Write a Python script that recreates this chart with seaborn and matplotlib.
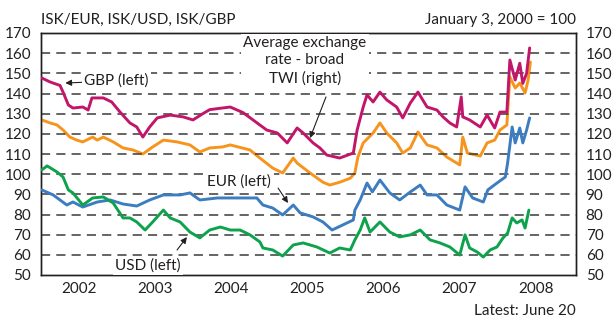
import matplotlib
matplotlib.use("Agg")
import matplotlib.pyplot as plt
import pandas as pd
import seaborn as sns
from matplotlib.ticker import FixedLocator, NullFormatter

# ISK exchange-rate indices (January 3, 2000 = 100), time as decimal years
gbp_t = [2002.01, 2002.12, 2002.25, 2002.29, 2002.36, 2002.42, 2002.55, 2002.62, 2002.67, 2002.82,
         2002.93, 2003.04, 2003.17, 2003.26, 2003.34, 2003.43, 2003.53, 2003.70, 2003.87, 2004.00,
         2004.13, 2004.22, 2004.49, 2004.66, 2004.84, 2004.97, 2005.11, 2005.24, 2005.37, 2005.45,
         2005.58, 2005.67, 2005.76, 2005.93, 2006.11, 2006.16, 2006.24, 2006.29, 2006.37, 2006.46,
         2006.55, 2006.68, 2006.76, 2006.86, 2006.96, 2007.08, 2007.21, 2007.29, 2007.38, 2007.47,
         2007.53, 2007.55, 2007.64, 2007.78, 2007.87, 2007.97, 2008.04, 2008.13, 2008.17, 2008.24,
         2008.30, 2008.34, 2008.39, 2008.43]
gbp_v = [147.7, 145.7, 144.0, 140.7, 134.3, 132.8, 133.3, 131.8, 137.8, 137.8,
         135.8, 130.8, 125.4, 123.4, 118.4, 123.4, 127.9, 129.3, 128.4, 126.9,
         130.0, 132.0, 133.3, 130.5, 125.5, 121.9, 120.4, 115.5, 122.9, 120.4,
         115.5, 113.0, 109.5, 108.0, 110.5, 121.9, 133.3, 139.3, 135.8, 140.7,
         136.8, 133.3, 127.9, 135.3, 140.7, 133.3, 131.8, 128.4, 125.4, 123.4,
         138.3, 128.4, 126.9, 123.4, 129.3, 122.9, 130.8, 130.8, 156.6, 146.7,
         155.0, 145.0, 150.0, 162.6]

twi_t = [2002.01, 2002.12, 2002.21, 2002.29, 2002.38, 2002.47, 2002.55, 2002.68, 2002.74, 2002.82,
         2002.95, 2003.08, 2003.21, 2003.34, 2003.47, 2003.61, 2003.79, 2003.96, 2004.09, 2004.22,
         2004.39, 2004.49, 2004.75, 2004.88, 2005.05, 2005.18, 2005.32, 2005.37, 2005.54, 2005.71,
         2005.80, 2005.93, 2006.07, 2006.13, 2006.17, 2006.24, 2006.37, 2006.46, 2006.55, 2006.68,
         2006.76, 2006.86, 2006.96, 2007.08, 2007.21, 2007.34, 2007.51, 2007.55, 2007.61, 2007.78,
         2007.87, 2007.97, 2008.04, 2008.13, 2008.17, 2008.24, 2008.30, 2008.37, 2008.41, 2008.44]
twi_v = [126.9, 125.4, 124.4, 121.9, 118.4, 116.9, 116.0, 118.4, 116.9, 118.4,
         116.0, 113.0, 112.0, 110.0, 113.5, 116.9, 116.0, 114.5, 111.0, 113.0,
         113.5, 114.5, 112.0, 108.0, 103.0, 100.6, 108.0, 105.5, 100.6, 96.0,
         94.6, 96.0, 98.0, 100.6, 108.5, 115.5, 120.4, 125.4, 120.4, 115.5,
         110.5, 113.0, 120.9, 114.5, 113.0, 108.5, 104.6, 118.4, 110.5, 109.0,
         115.5, 116.9, 121.9, 124.4, 148.2, 142.7, 145.2, 140.3, 146.7, 155.6]

eur_t = [2002.01, 2002.16, 2002.34, 2002.42, 2002.55, 2002.74, 2002.91, 2003.08, 2003.26, 2003.43,
         2003.61, 2003.83, 2003.96, 2004.09, 2004.32, 2004.58, 2004.84, 2004.92, 2005.05, 2005.18,
         2005.32, 2005.41, 2005.58, 2005.71, 2005.80, 2005.83, 2005.97, 2006.11, 2006.13, 2006.20,
         2006.29, 2006.36, 2006.46, 2006.59, 2006.72, 2006.86, 2006.99, 2007.08, 2007.21, 2007.34,
         2007.51, 2007.58, 2007.68, 2007.82, 2007.88, 2008.00, 2008.11, 2008.14, 2008.20, 2008.24,
         2008.30, 2008.34, 2008.39, 2008.43]
eur_v = [92.2, 89.7, 84.7, 86.2, 83.7, 86.2, 87.2, 85.2, 84.2, 87.2,
         89.7, 89.7, 90.7, 87.2, 88.2, 88.2, 88.2, 84.7, 83.2, 79.8,
         84.7, 80.8, 78.8, 76.3, 73.3, 72.3, 74.8, 77.3, 82.2, 87.2,
         95.6, 91.2, 97.1, 90.7, 87.2, 91.2, 94.6, 89.7, 89.7, 84.7,
         82.2, 93.7, 88.2, 86.2, 92.2, 95.6, 98.6, 105.5, 123.4, 115.5,
         122.9, 115.5, 121.9, 127.9]

usd_t = [2002.01, 2002.08, 2002.21, 2002.29, 2002.36, 2002.42, 2002.55, 2002.68, 2002.82, 2002.95,
         2003.08, 2003.17, 2003.26, 2003.37, 2003.47, 2003.61, 2003.70, 2003.83, 2003.96, 2004.09,
         2004.22, 2004.36, 2004.49, 2004.62, 2004.75, 2004.88, 2004.92, 2005.05, 2005.18, 2005.32,
         2005.45, 2005.63, 2005.80, 2005.93, 2006.07, 2006.13, 2006.20, 2006.26, 2006.33, 2006.46,
         2006.59, 2006.72, 2006.86, 2006.99, 2007.12, 2007.25, 2007.38, 2007.51, 2007.58, 2007.64,
         2007.74, 2007.82, 2007.91, 2008.00, 2008.08, 2008.14, 2008.20, 2008.26, 2008.33, 2008.37,
         2008.42]
usd_v = [102.1, 104.1, 101.1, 98.6, 92.2, 90.7, 84.7, 88.2, 88.7, 85.7,
         78.3, 78.3, 76.3, 72.3, 76.3, 82.2, 78.3, 76.3, 71.3, 68.4,
         72.3, 73.8, 72.3, 72.3, 69.9, 66.4, 63.4, 62.4, 59.4, 64.9,
         65.9, 63.9, 60.9, 63.4, 62.4, 67.4, 72.3, 78.3, 71.3, 76.3,
         71.3, 68.9, 69.9, 72.3, 67.4, 65.9, 63.9, 59.9, 69.9, 63.4,
         61.4, 58.9, 62.4, 63.9, 68.4, 70.8, 78.3, 75.8, 77.3, 73.3,
         82.2]

years = [2002, 2003, 2004, 2005, 2006, 2007, 2008]
y_ticks = [50, 60, 70, 80, 90, 100, 110, 120, 130, 140, 150, 160, 170]

C_GBP = "#C2166B"
C_TWI = "#F7941D"
C_EUR = "#3C7CC0"
C_USD = "#0DA24C"
INK = "#231F20"

sns.set_theme(style="white")
plt.rcParams["font.family"] = ["Lato", "DejaVu Sans"]
plt.rcParams["text.color"] = INK

W, H = 614, 322
L, R, T, B = 41, 576, 33, 275
fig = plt.figure(figsize=(W / 100, H / 100), dpi=100)
ax = fig.add_axes([L / W, 1 - B / H, (R - L) / W, (B - T) / H])
ax2 = ax.twinx()

x_end = 2009.04
for a in (ax, ax2):
    a.set_xlim(2002, x_end)
    a.set_ylim(50, 170)
    a.set_yticks(y_ticks)

# dashed horizontal gridlines
for v in y_ticks[1:-1]:
    ax.axhline(v, color="#3A3A3A", lw=1.1, ls=(0, (6, 4)), zorder=1)

lw = 2.1
left_series = [
    (eur_t, eur_v, C_EUR),
    (usd_t, usd_v, C_USD),
    (gbp_t, gbp_v, C_GBP),
]
for t, v, c in left_series:
    df = pd.DataFrame({"t": t, "v": v})
    sns.lineplot(data=df, x="t", y="v", ax=ax, color=c, lw=lw, sort=False,
                 estimator=None, zorder=3)
df_twi = pd.DataFrame({"t": twi_t, "v": twi_v})
sns.lineplot(data=df_twi, x="t", y="v", ax=ax2, color=C_TWI, lw=lw, sort=False,
             estimator=None, zorder=3)
ax.set_zorder(ax2.get_zorder() + 1)
ax.patch.set_visible(False)
ax2.patch.set_visible(True)
ax2.patch.set_facecolor("white")

for a in (ax, ax2):
    a.set_xlabel("")
    a.set_ylabel("")
    for s in a.spines.values():
        s.set_color(INK)
        s.set_linewidth(1.0)

fs = 11
# y tick labels on both sides, no tick marks
ax.tick_params(axis="y", length=0, pad=7, labelsize=fs, labelcolor=INK)
ax2.tick_params(axis="y", length=0, pad=7, labelsize=fs, labelcolor=INK)

# x: tick marks at year boundaries, labels centred in each year
ax.xaxis.set_major_locator(FixedLocator(years + [x_end]))
ax.xaxis.set_major_formatter(NullFormatter())
centers = [y + 0.5 for y in years[:-1]] + [(2008 + x_end) / 2]
ax.xaxis.set_minor_locator(FixedLocator(centers))
ax.set_xticklabels([str(y) for y in years], minor=True)
ax.tick_params(axis="x", which="major", length=6, width=1.0, color=INK, direction="out")
ax.tick_params(axis="x", which="minor", length=0, pad=5, labelsize=fs, labelcolor=INK)
ax2.tick_params(axis="x", which="both", length=0, labelbottom=False)

# labels (white boxes knock out the gridlines) and arrows
arrow = dict(arrowstyle="-|>", color=INK, lw=0.8, mutation_scale=9, shrinkA=0, shrinkB=0)
box = dict(boxstyle="square,pad=0.15", fc="white", ec="none")
ax.annotate("GBP (left)", xy=(2002.32, 145.2), xytext=(2002.57, 146.2),
            ha="left", va="center", fontsize=fs, arrowprops=arrow, bbox=box, zorder=5)
ax.annotate("Average exchange\nrate - broad\nTWI (right)", xy=(2005.47, 156.1),
            ha="center", va="center", fontsize=fs, linespacing=1.3, bbox=box, zorder=5)
ax.annotate("", xy=(2005.54, 117.9), xytext=(2005.75, 138.3), arrowprops=arrow, zorder=5)
ax.annotate("EUR (left)", xy=(2004.61, 96.3), ha="center", va="center", fontsize=fs,
            bbox=box, zorder=5)
ax.annotate("", xy=(2005.25, 85.7), xytext=(2005.12, 93.1), arrowprops=arrow, zorder=5)
ax.annotate("USD (left)", xy=(2003.41, 54.5), ha="center", va="center", fontsize=fs,
            bbox=box, zorder=5)
ax.annotate("", xy=(2003.92, 68.8), xytext=(2003.79, 62.4), arrowprops=arrow, zorder=5)

fig.text(L / W, 1 - 20 / H, "ISK/EUR, ISK/USD, ISK/GBP", ha="left", va="center", fontsize=fs)
fig.text(R / W, 1 - 20 / H, "January 3, 2000 = 100", ha="right", va="center", fontsize=fs)
fig.text(R / W, 1 - 311 / H, "Latest: June 20", ha="right", va="center", fontsize=fs)

fig.savefig("out.png", dpi=100)
